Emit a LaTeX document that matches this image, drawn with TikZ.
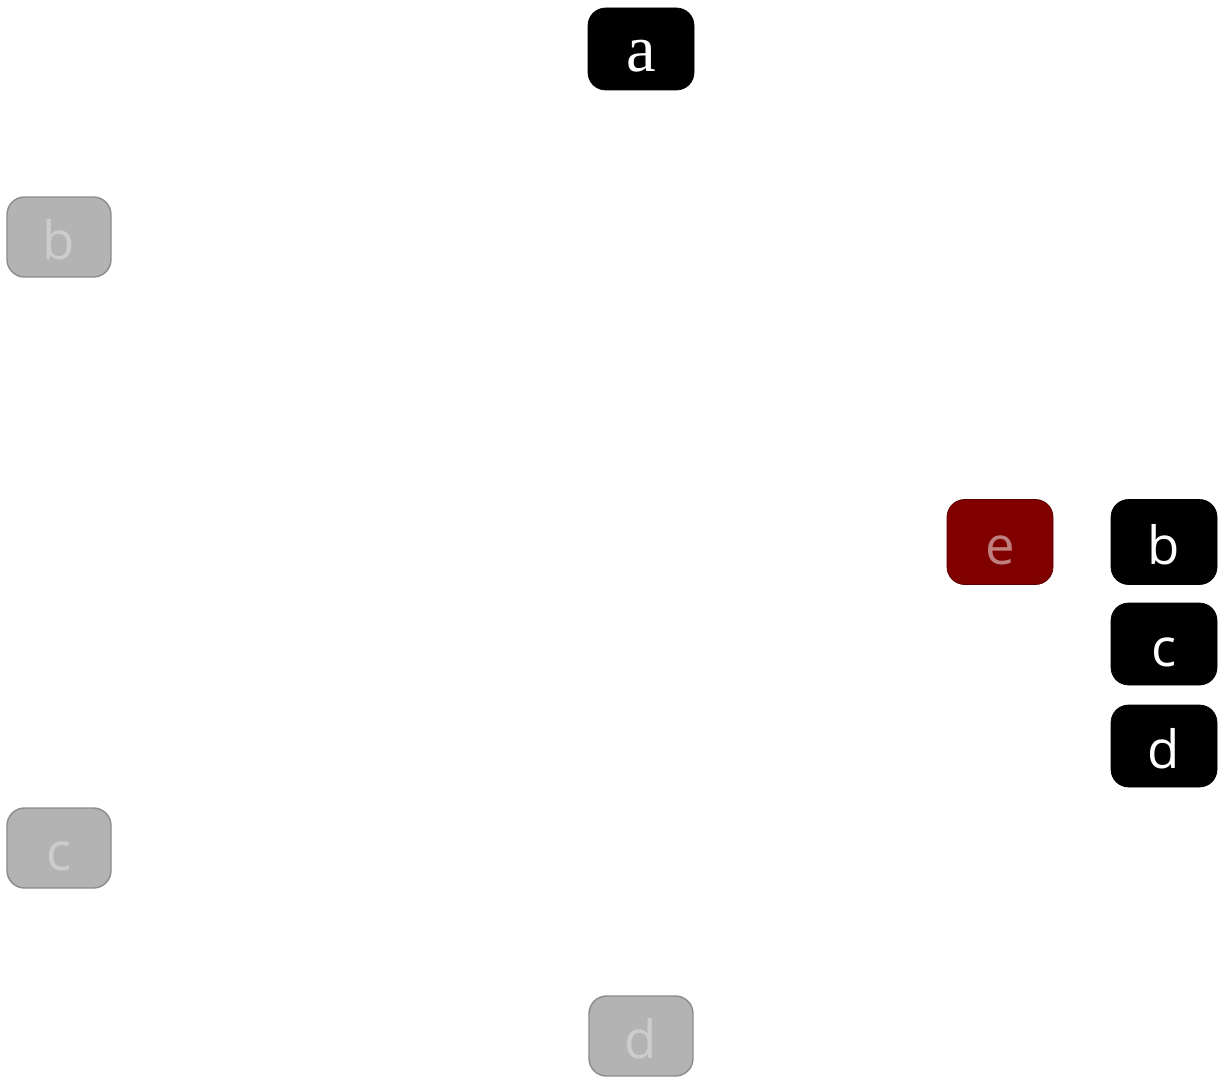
\documentclass[tikz,border=0pt]{standalone}
\usepackage{fontspec}
\newfontfamily\sansf{Open Sans}
\newfontfamily\seriff{Liberation Serif}
\definecolor{grayfill}{HTML}{B3B3B3}
\definecolor{grayline}{HTML}{8C8C8C}
\definecolor{graytext}{HTML}{CCCCCC}
\definecolor{darkred}{HTML}{800000}
\definecolor{redtext}{HTML}{C07F7F}
\tikzset{
  box/.style={rounded corners=10pt, minimum width=106*0.02cm, minimum height=82*0.02cm, inner sep=0pt, text height=26pt, text depth=0pt, font=\sansf\fontsize{30}{36}\selectfont},
  blackbox/.style={box, fill=black, draw=black, text=white},
  graybox/.style={box, fill=grayfill, draw=grayline, line width=0.8pt, text=graytext, minimum width=104*0.02cm, minimum height=80*0.02cm},
  redbox/.style={box, fill=darkred, draw=darkred!70!black, text=redtext, minimum height=85*0.02cm},
}
\begin{document}
\begin{tikzpicture}[x=0.02cm, y=-0.02cm]
\useasboundingbox (0,0) rectangle (1222,1081);
\node[blackbox, font=\seriff\fontsize{38}{44}\selectfont] (a) at (641,49) {a};
\node[graybox] (gb) at (59,237) {b};
\node[graybox] (gc) at (59,848) {c};
\node[graybox] (gd) at (641,1036) {d};
\node[redbox] (e) at (1000,542) {e};
\node[blackbox, minimum height=85*0.02cm] (bb) at (1164,542) {b};
\node[blackbox] (bc) at (1164,644) {c};
\node[blackbox] (bd) at (1164,746) {d};
\end{tikzpicture}
\end{document}
